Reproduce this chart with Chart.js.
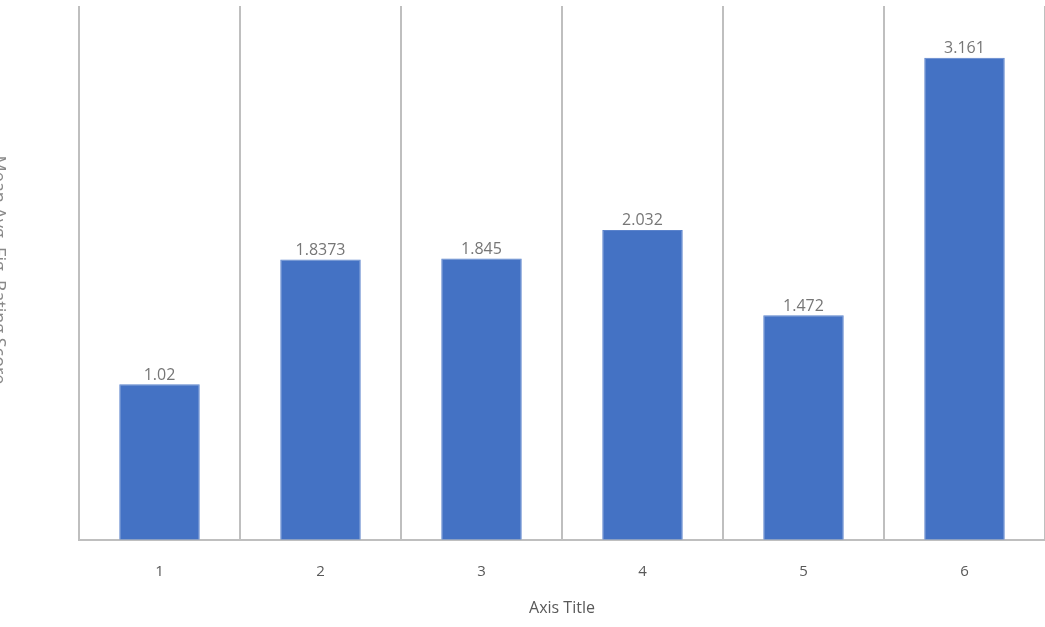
<!DOCTYPE html>
<html>
<head>
<meta charset="utf-8">
<script src="https://cdn.jsdelivr.net/npm/chart.js@4/dist/chart.umd.min.js"></script>
<style>
  html, body { margin: 0; padding: 0; background: #fff; }
  #wrap { width: 1045px; height: 627px; position: relative; }
</style>
</head>
<body>
<div id="wrap"><canvas id="barChart"></canvas></div>
<script>
// chart data
const categories = ['1', '2', '3', '4', '5', '6'];
const values = [1.02, 1.8373, 1.845, 2.032, 1.472, 3.161];
const valueLabels = ['1.02', '1.8373', '1.845', '2.032', '1.472', '3.161'];
const xTitle = 'Axis Title';
const yTitle = 'Mean Avg. Fig. Rating Score';

// labels above each bar
const barLabels = {
  id: 'barLabels',
  afterDatasetsDraw(chart) {
    const ctx = chart.ctx;
    const meta = chart.getDatasetMeta(0);
    ctx.save();
    ctx.font = '16px "Open Sans", sans-serif';
    ctx.fillStyle = '#767676';
    ctx.textAlign = 'center';
    ctx.textBaseline = 'bottom';
    meta.data.forEach((bar, i) => {
      ctx.fillText(valueLabels[i], bar.x, bar.y - 1);
    });
    ctx.restore();
  }
};

// cut-off y axis title at the very left edge
const sideTitle = {
  id: 'sideTitle',
  afterDraw(chart) {
    const ctx = chart.ctx;
    ctx.save();
    ctx.translate(-2, 270);
    ctx.rotate(Math.PI / 2);
    ctx.font = '18px "Open Sans", sans-serif';
    ctx.fillStyle = '#8a8a8a';
    ctx.textAlign = 'center';
    ctx.textBaseline = 'middle';
    ctx.fillText(yTitle, 0, 0);
    ctx.restore();
  }
};

new Chart(document.getElementById('barChart').getContext('2d'), {
  type: 'bar',
  data: {
    labels: categories,
    datasets: [
      {
        data: values,
        backgroundColor: '#4472c4',
        borderColor: '#5b83cc',
        borderWidth: 1,
        barPercentage: 0.5,
        categoryPercentage: 1.0,
      },
    ],
  },
  options: {
    responsive: true,
    maintainAspectRatio: false,
    animation: false,
    layout: {
      padding: { left: 79, right: 0, top: 6, bottom: 9 },
    },
    plugins: {
      legend: { display: false },
      tooltip: { enabled: false },
    },
    scales: {
      x: {
        offset: true,
        grid: {
          offset: true,
          color: '#bfbfbf',
          lineWidth: 2,
          drawTicks: false,
        },
        border: { color: '#bfbfbf', width: 2 },
        ticks: {
          color: '#595959',
          font: { family: '"Open Sans", sans-serif', size: 15 },
          padding: 23,
        },
        title: {
          display: true,
          text: xTitle,
          color: '#595959',
          font: { family: '"Open Sans", sans-serif', size: 16 },
          padding: { top: -5, bottom: 0 },
        },
      },
      y: {
        display: false,
        min: 0,
        max: 3.5,
      },
    },
  },
  plugins: [barLabels, sideTitle],
});
</script>
</body>
</html>
